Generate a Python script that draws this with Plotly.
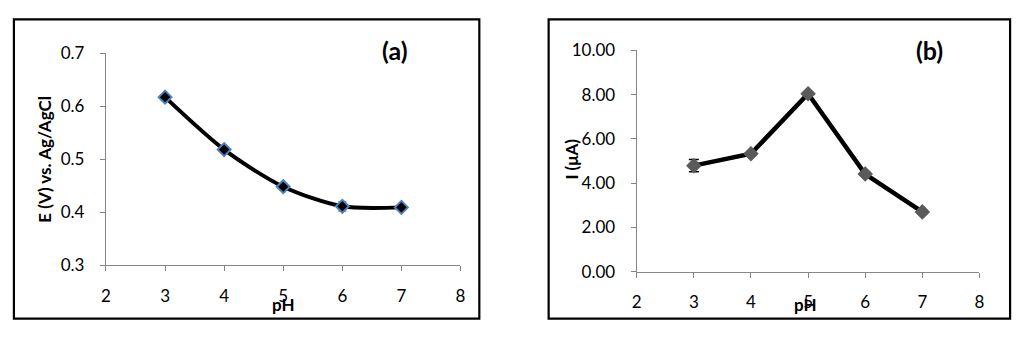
import plotly.graph_objects as go

# Panel (a)
ph_a = [3, 4, 5, 6, 7]
e_a = [0.617, 0.518, 0.448, 0.411, 0.409]
e_err = [0.004, 0.006, 0.006, 0.009, 0.004]

# Panel (b)
ph_b = [3, 4, 5, 6, 7]
i_b = [4.79, 5.33, 8.04, 4.41, 2.70]
i_err = [0.28, 0.08, 0.08, 0.08, 0.08]

FONT = "Lato"
AX = "#868686"

fig = go.Figure()
fig.add_trace(go.Scatter(
    x=ph_a, y=e_a, mode="lines+markers", xaxis="x", yaxis="y",
    line=dict(color="black", width=4, shape="spline", smoothing=0.8),
    marker=dict(symbol="diamond", size=10, color="black",
                line=dict(color="#4F81BD", width=2)),
    error_y=dict(type="data", array=e_err, color="#7f7f7f", thickness=1.2, width=4),
    showlegend=False))
fig.add_trace(go.Scatter(
    x=ph_b, y=i_b, mode="lines+markers", xaxis="x2", yaxis="y2",
    line=dict(color="black", width=4.5),
    marker=dict(symbol="diamond", size=12, color="#5a5a5a"),
    error_y=dict(type="data", array=i_err, color="black", thickness=1.5, width=5),
    showlegend=False))

axcommon = dict(showline=True, linecolor=AX, linewidth=1.3, ticks="outside",
                tickcolor=AX, ticklen=5, showgrid=False, zeroline=False,
                tickfont=dict(family=FONT, size=17, color="black"), fixedrange=True)

fig.update_layout(
    width=1024, height=337, margin=dict(l=0, r=0, t=0, b=0),
    paper_bgcolor="white", plot_bgcolor="white",
    xaxis=dict(domain=[0.0996, 0.4492], range=[2, 8], dtick=1, anchor="y",
               ticklabelstandoff=10, **axcommon),
    yaxis=dict(domain=[0.1958, 0.8665], range=[0.3, 0.7], dtick=0.1, anchor="x",
               tickformat=".1f", ticklabelstandoff=12, **axcommon),
    xaxis2=dict(domain=[0.623, 0.961], range=[2, 8], dtick=1, anchor="y2",
                ticklabelstandoff=10, **axcommon),
    yaxis2=dict(domain=[0.1751, 0.8754], range=[0, 10], dtick=2, anchor="x2",
                tickformat=".2f", ticklabelstandoff=12, **axcommon),
)

# Panel borders
for x0, x1 in [(9 / 1024, 479 / 1024), (549 / 1024, 1015 / 1024)]:
    fig.add_shape(type="rect", xref="paper", yref="paper", x0=x0, x1=x1,
                  y0=1 - 328 / 337, y1=1 - 9 / 337,
                  line=dict(color="black", width=2.2), fillcolor="rgba(0,0,0,0)")

def ann(text, x, y, size, angle=0):
    fig.add_annotation(text=text, x=x / 1024, y=1 - y / 337, xref="paper", yref="paper",
                       showarrow=False, textangle=angle, xanchor="center", yanchor="middle",
                       font=dict(family=FONT, size=size, color="black"))

ann("<b>(a)</b>", 394, 42, 25)
ann("<b>(b)</b>", 934, 42, 25)
ann("<b>E (V) vs. Ag/AgCl</b>", 40, 158, 17, -90)
ann("<b>I (μA)</b>", 572, 158, 17, -90)
ann("<b>pH</b>", 281, 313, 17)
ann("<b>pH</b>", 808, 313, 17)

fig.write_html("out.html", config={"displayModeBar": False},
               post_script="document.body.style.margin='0';document.body.style.overflow='hidden';")
